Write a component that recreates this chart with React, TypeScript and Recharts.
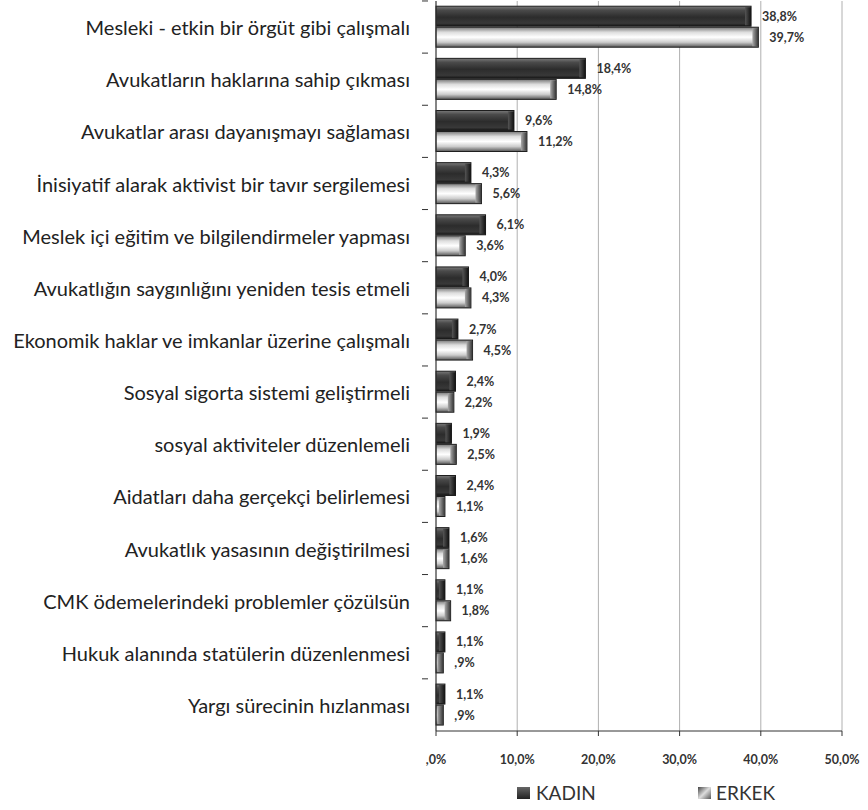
import React from 'react';
import { BarChart, Bar, XAxis, YAxis, CartesianGrid, Legend, LabelList } from 'recharts';

const categories = [
  'Mesleki - etkin bir örgüt gibi çalışmalı',
  'Avukatların haklarına sahip çıkması',
  'Avukatlar arası dayanışmayı sağlaması',
  'İnisiyatif alarak aktivist bir tavır sergilemesi',
  'Meslek içi eğitim ve bilgilendirmeler yapması',
  'Avukatlığın saygınlığını yeniden tesis etmeli',
  'Ekonomik haklar ve imkanlar üzerine çalışmalı',
  'Sosyal sigorta sistemi geliştirmeli',
  'sosyal aktiviteler düzenlemeli',
  'Aidatları daha gerçekçi belirlemesi',
  'Avukatlık yasasının değiştirilmesi',
  'CMK ödemelerindeki problemler çözülsün',
  'Hukuk alanında statülerin düzenlenmesi',
  'Yargı sürecinin hızlanması',
];
const kadin = [38.8, 18.4, 9.6, 4.3, 6.1, 4.0, 2.7, 2.4, 1.9, 2.4, 1.6, 1.1, 1.1, 1.1];
const erkek = [39.7, 14.8, 11.2, 5.6, 3.6, 4.3, 4.5, 2.2, 2.5, 1.1, 1.6, 1.8, 0.9, 0.9];
const xTicks = [0, 10, 20, 30, 40, 50];

const data = categories.map((c, i) => ({ name: c, KADIN: kadin[i], ERKEK: erkek[i] }));

const fmt = (v: number) => {
  let s = v.toFixed(1).replace('.', ',');
  if (s.startsWith('0')) s = s.slice(1);
  return s + '%';
};

const FONT = 'Lato, "Open Sans", sans-serif';

const BevelBar = (props: any) => {
  const { x, y, width, height, grad, cap } = props;
  if (!width || width <= 0) return null;
  const capW = Math.min(6, width);
  return (
    <g>
      <rect x={x} y={y} width={width} height={height} fill={`url(#${grad})`} stroke="#1e1e1e" strokeWidth={1} />
      <rect x={x + width - capW} y={y + 1} width={capW} height={height - 2} fill={`url(#${cap})`} />
    </g>
  );
};

const YTick = (props: any) => {
  const { x, y, payload } = props;
  const band = 52.2;
  return (
    <g>
      <text x={x - 18} y={y} textAnchor="end" dominantBaseline="central" fontSize={20} fill="#222" fontFamily={FONT}>
        {payload.value}
      </text>
      <line x1={x - 6} x2={x} y1={y - band / 2} y2={y - band / 2} stroke="#333" />
    </g>
  );
};

const XTick = (props: any) => {
  const { x, y, payload } = props;
  return (
    <text x={x} y={y + 26} textAnchor="middle" fontSize={12.5} fontWeight="bold" fill="#333" fontFamily={FONT}>
      {fmt(payload.value)}
    </text>
  );
};

const LegendContent = () => (
  <div style={{ position: 'relative', width: 868, height: 40, fontFamily: FONT, fontSize: 19, color: '#333' }}>
    <div style={{ position: 'absolute', left: 517, top: 20, display: 'flex', alignItems: 'center' }}>
      <span style={{ display: 'inline-block', width: 13, height: 12, background: 'linear-gradient(#666,#222)', marginRight: 6 }} />
      KADIN
    </div>
    <div style={{ position: 'absolute', left: 698, top: 20, display: 'flex', alignItems: 'center' }}>
      <span style={{ display: 'inline-block', width: 13, height: 12, background: 'linear-gradient(135deg,#444,#ddd,#555)', marginRight: 5 }} />
      ERKEK
    </div>
  </div>
);

const valueLabel = (props: any) => {
  const { x, y, width, height, value } = props;
  return (
    <text x={x + width + 11} y={y + height / 2} dominantBaseline="central" fontSize={12.5} fontWeight="bold" fill="#333" fontFamily={FONT}>
      {fmt(value)}
    </text>
  );
};

export default function App() {
  return (
    <div style={{ position: 'absolute', left: 0, top: 0, background: '#fff' }}>
      <BarChart
        width={868}
        height={810}
        data={data}
        layout="vertical"
        margin={{ top: 1, right: 26, bottom: 9, left: 0 }}
        barCategoryGap="10%"
        barGap={1}
      >
        <defs>
          <linearGradient id="gK" x1="0" y1="0" x2="0" y2="1">
            <stop offset="0%" stopColor="#7a7a7a" />
            <stop offset="20%" stopColor="#4a4a4a" />
            <stop offset="55%" stopColor="#2c2c2c" />
            <stop offset="85%" stopColor="#383838" />
            <stop offset="100%" stopColor="#151515" />
          </linearGradient>
          <linearGradient id="gE" x1="0" y1="0" x2="0" y2="1">
            <stop offset="0%" stopColor="#777" />
            <stop offset="25%" stopColor="#ddd" />
            <stop offset="50%" stopColor="#fff" />
            <stop offset="75%" stopColor="#ccc" />
            <stop offset="100%" stopColor="#555" />
          </linearGradient>
          <linearGradient id="cK" x1="0" y1="0" x2="1" y2="0">
            <stop offset="0%" stopColor="#555" />
            <stop offset="100%" stopColor="#111" />
          </linearGradient>
          <linearGradient id="cE" x1="0" y1="0" x2="1" y2="0">
            <stop offset="0%" stopColor="#aaa" />
            <stop offset="100%" stopColor="#333" />
          </linearGradient>
        </defs>
        <CartesianGrid horizontal={false} stroke="#b0b0b0" />
        <XAxis
          type="number"
          domain={[0, 50]}
          ticks={xTicks}
          height={30}
          tick={<XTick />}
          tickSize={5}
          axisLine={{ stroke: '#333' }}
          tickLine={{ stroke: '#333' }}
          interval={0}
        />
        <YAxis
          type="category"
          dataKey="name"
          width={436}
          tick={<YTick />}
          tickLine={false}
          axisLine={{ stroke: '#333' }}
          interval={0}
        />
        <Legend verticalAlign="bottom" height={40} content={<LegendContent />} />
        <Bar dataKey="KADIN" isAnimationActive={false} shape={<BevelBar grad="gK" cap="cK" />}>
          <LabelList dataKey="KADIN" content={valueLabel} />
        </Bar>
        <Bar dataKey="ERKEK" isAnimationActive={false} shape={<BevelBar grad="gE" cap="cE" />}>
          <LabelList dataKey="ERKEK" content={valueLabel} />
        </Bar>
      </BarChart>
    </div>
  );
}
